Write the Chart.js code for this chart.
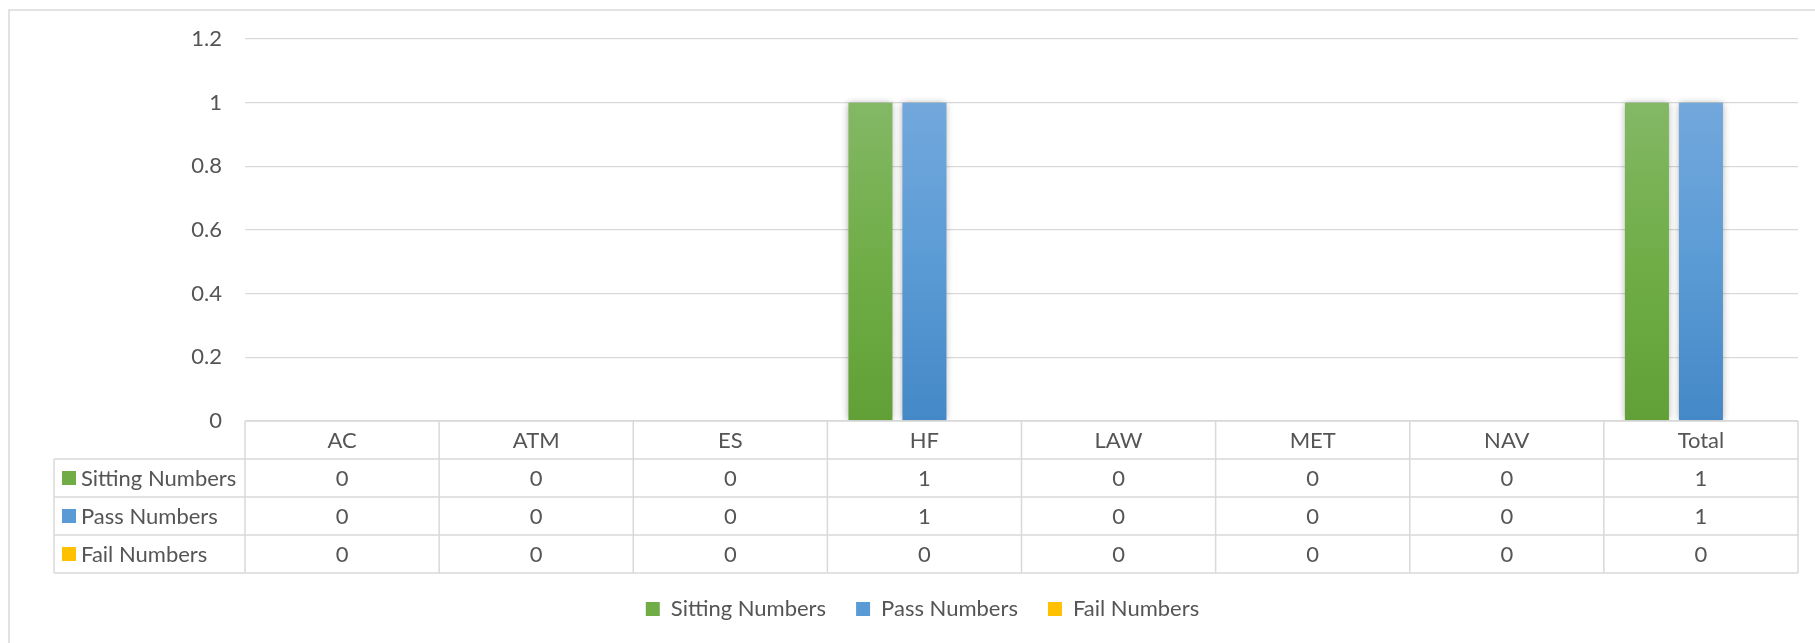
<!DOCTYPE html>
<html>
<head>
<meta charset="utf-8">
<script src="https://cdn.jsdelivr.net/npm/chart.js@4/dist/chart.umd.min.js"></script>
<style>
  html, body { margin:0; padding:0; background:#fff; }
  #wrap { position:relative; width:1815px; height:643px; }
</style>
</head>
<body>
<div id="wrap"><canvas id="chart"></canvas></div>
<script>
// Data
const categories = ['AC','ATM','ES','HF','LAW','MET','NAV','Total'];
const sittingNumbers = [0,0,0,1,0,0,0,1];
const passNumbers = [0,0,0,1,0,0,0,1];
const failNumbers = [0,0,0,0,0,0,0,0];
const seriesNames = ['Sitting Numbers','Pass Numbers','Fail Numbers'];
const yMax = 1.2;
const yStep = 0.2;

// top / mid / bottom shades (Excel-ish gradient fill)
const seriesColors = [
  ['#83b865','#70ad47','#61a036'],
  ['#72a8dc','#5b9bd5','#4488c7'],
  ['#ffcf3a','#ffc000','#eab200'],
];
const textColor = '#555555';
const lineColor = '#d9d9d9';
const fontFamily = 'Lato, "Open Sans", sans-serif';
const fontSize = 22;

function barFill(i) {
  return (c) => {
    const chart = c.chart;
    const cols = seriesColors[i];
    if (!chart.chartArea || c.type !== 'data' || !c.parsed) return cols[1];
    const y = chart.scales.y;
    const top = y.getPixelForValue(c.parsed.y);
    const bottom = y.getPixelForValue(0);
    if (bottom - top < 1) return cols[1];
    const g = chart.ctx.createLinearGradient(0, top, 0, bottom);
    g.addColorStop(0, cols[0]);
    g.addColorStop(0.5, cols[1]);
    g.addColorStop(1, cols[2]);
    return g;
  };
}

// white background + light frame
const frame = {
  id: 'frame',
  beforeDraw(chart) {
    const ctx = chart.ctx;
    ctx.save();
    ctx.fillStyle = '#fff';
    ctx.fillRect(0, 0, chart.width, chart.height);
    ctx.strokeStyle = lineColor;
    ctx.lineWidth = 1.5;
    ctx.strokeRect(9, 10, chart.width + 20, chart.height + 20);
    ctx.restore();
  }
};

// soft shadow behind the bars
const barShadow = {
  id: 'barShadow',
  beforeDatasetsDraw(chart) {
    const ctx = chart.ctx;
    ctx.save();
    ctx.shadowColor = 'rgba(0,0,0,0.35)';
    ctx.shadowBlur = 7;
    ctx.shadowOffsetX = 0;
    ctx.shadowOffsetY = 0;
  },
  afterDatasetsDraw(chart) {
    chart.ctx.restore();
  }
};

// Excel style data table under the plot
const dataTable = {
  id: 'dataTable',
  afterDraw(chart) {
    const {ctx, scales: {x}} = chart;
    const n = categories.length;
    const colW = x.width / n;
    const top = chart.chartArea.bottom;
    const rowH = 38;
    const tableLeft = 54;
    const rows = chart.data.datasets.length;
    const bottom = top + rowH * (rows + 1);

    ctx.save();
    ctx.strokeStyle = lineColor;
    ctx.lineWidth = 1.5;
    ctx.beginPath();
    ctx.moveTo(x.left, top); ctx.lineTo(x.right, top);
    for (let r = 1; r <= rows + 1; r++) {
      ctx.moveTo(tableLeft, top + r * rowH); ctx.lineTo(x.right, top + r * rowH);
    }
    for (let i = 0; i <= n; i++) {
      const xx = x.left + i * colW;
      ctx.moveTo(xx, top); ctx.lineTo(xx, bottom);
    }
    ctx.moveTo(tableLeft, top + rowH); ctx.lineTo(tableLeft, bottom);
    ctx.stroke();

    ctx.font = fontSize + 'px ' + fontFamily;
    ctx.fillStyle = textColor;
    ctx.textBaseline = 'middle';
    ctx.textAlign = 'center';
    categories.forEach((c, i) => {
      ctx.fillText(c, x.getPixelForValue(i), top + rowH / 2 + 1);
    });
    chart.data.datasets.forEach((ds, r) => {
      const cy = top + (r + 1) * rowH + rowH / 2 + 1;
      ctx.textAlign = 'center';
      ctx.fillStyle = textColor;
      ds.data.forEach((v, i) => ctx.fillText(String(v), x.getPixelForValue(i), cy));
      ctx.fillStyle = seriesColors[r][1];
      ctx.fillRect(tableLeft + 8, cy - 8, 14, 14);
      ctx.fillStyle = textColor;
      ctx.textAlign = 'left';
      ctx.fillText(ds.label, tableLeft + 27, cy);
    });
    ctx.restore();
  }
};

Chart.defaults.font.family = fontFamily;
Chart.defaults.font.size = fontSize;
Chart.defaults.color = textColor;

new Chart(document.getElementById('chart'), {
  type: 'bar',
  data: {
    labels: categories,
    datasets: [
      { label: seriesNames[0], data: sittingNumbers, backgroundColor: barFill(0) },
      { label: seriesNames[1], data: passNumbers, backgroundColor: barFill(1) },
      { label: seriesNames[2], data: failNumbers, backgroundColor: barFill(2) },
    ]
  },
  options: {
    responsive: true,
    maintainAspectRatio: false,
    animation: false,
    categoryPercentage: 0.8345,
    barPercentage: 0.815,
    layout: { padding: { top: 39, right: 17, bottom: 13, left: 47 } },
    scales: {
      x: {
        grid: { display: false },
        border: { display: false },
        ticks: { display: false },
        afterFit: (s) => { s.height = 147; }
      },
      y: {
        min: 0,
        max: yMax,
        ticks: {
          stepSize: yStep,
          padding: 23,
          callback: (v) => String(+v.toFixed(1))
        },
        grid: { color: lineColor, lineWidth: 1.3, drawTicks: false },
        border: { display: false },
        afterFit: (s) => { s.width = 198; }
      }
    },
    plugins: {
      tooltip: { enabled: false },
      legend: {
        position: 'bottom',
        labels: {
          boxWidth: 14,
          boxHeight: 14,
          padding: 30,
          generateLabels: (chart) =>
            Chart.defaults.plugins.legend.labels.generateLabels(chart).map((l, i) => ({
              ...l, fillStyle: seriesColors[i][1], strokeStyle: 'rgba(0,0,0,0)', lineWidth: 0
            }))
        }
      }
    }
  },
  plugins: [frame, barShadow, dataTable]
});
</script>
</body>
</html>
